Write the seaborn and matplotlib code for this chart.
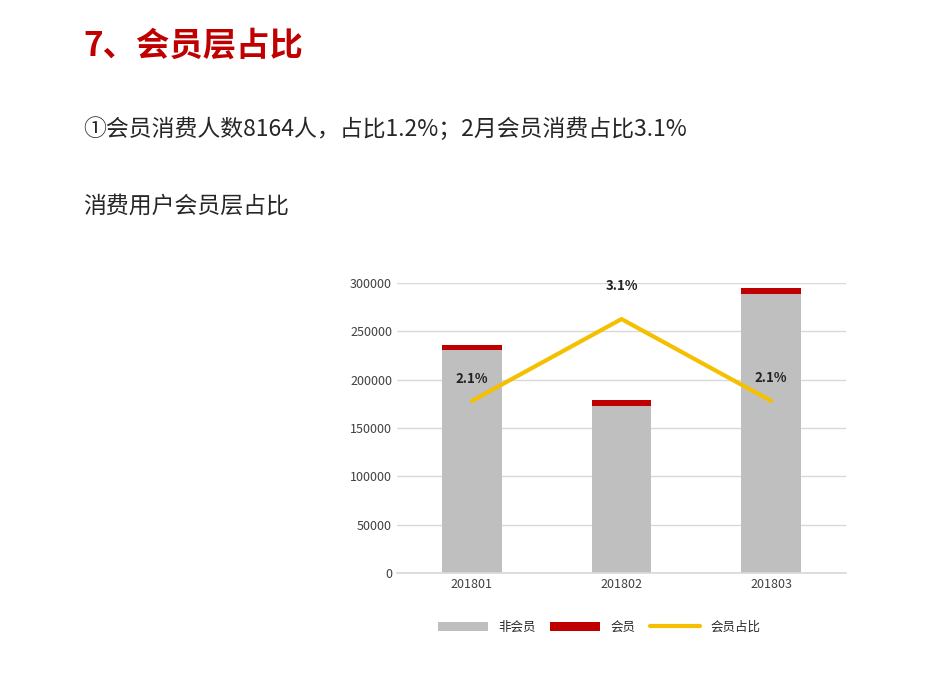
import matplotlib
matplotlib.use("Agg")
import matplotlib.pyplot as plt
import seaborn as sns
import pandas as pd

months = ["201801", "201802", "201803"]
non_member = [230500, 173000, 288500]
member = [4900, 5500, 6200]
ratio = [2.1, 3.1, 2.1]
ratio_labels = ["2.1%", "3.1%", "2.1%"]

sns.set_theme(style="white")
plt.rcParams['font.family'] = ['Noto Sans CJK SC', 'DejaVu Sans']

fig = plt.figure(figsize=(9.44, 6.77), dpi=100)
fig.text(0.088, 0.932, "7、会员层占比", color="#C00000", fontsize=24, fontweight="bold", va="center")
fig.text(0.088, 0.81, "①会员消费人数8164人，占比1.2%；2月会员消费占比3.1%", fontsize=16.5, va="center")
fig.text(0.088, 0.695, "消费用户会员层占比", fontsize=16.5, va="center")

ax = fig.add_axes([397/944, 1-573/677, 449/944, 290/677])
df = pd.DataFrame({"month": months, "non": non_member, "mem": member})
df["total"] = df["non"] + df["mem"]
sns.barplot(data=df, x="month", y="total", color="#C00000", width=0.4, ax=ax, saturation=1, label="会员", linewidth=0)
sns.barplot(data=df, x="month", y="non", color="#BFBFBF", width=0.4, ax=ax, saturation=1, label="非会员", linewidth=0)
ax.set_ylim(0, 300000)
ax.set_yticks(range(0, 300001, 50000))
ax.set_xlabel(""); ax.set_ylabel("")
ax.yaxis.grid(True, color="#D9D9D9", lw=1)
ax.set_axisbelow(True)
for s in ["top", "right", "left"]:
    ax.spines[s].set_visible(False)
ax.spines["bottom"].set_color("#D9D9D9")
ax.tick_params(axis="both", labelsize=9, colors="#404040", length=0)

ax2 = ax.twinx()
sns.lineplot(x=[0, 1, 2], y=ratio, color="#F5C000", lw=3, ax=ax2, label="会员占比", legend=False)
ax2.set_ylim(0, 3.54)
ax2.axis("off")
offs = [0.18, 0.32, 0.2]
for i, (v, t) in enumerate(zip(ratio, ratio_labels)):
    ax2.text(i, v + offs[i], t, ha="center", va="bottom", fontsize=9.5, fontweight="bold", color="#222")
ax.set_xlim(-0.5, 2.5)

h1, l1 = ax.get_legend_handles_labels()
h2, l2 = ax2.get_legend_handles_labels()
hd = dict(zip(l1 + l2, h1 + h2))
order = ["非会员", "会员", "会员占比"]
ax.legend([hd[k] for k in order], order, loc="upper center", bbox_to_anchor=(0.45, -0.125),
          ncol=3, frameon=False, fontsize=9, handlelength=4, columnspacing=1.2)
fig.savefig("out.png", dpi=100)
